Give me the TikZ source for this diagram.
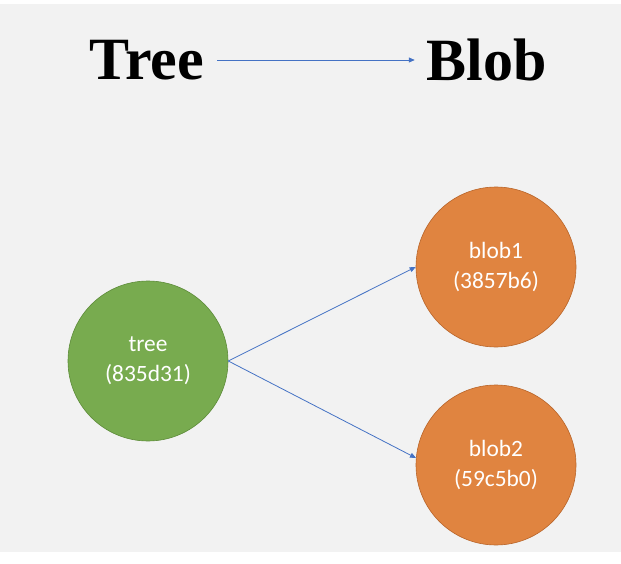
\documentclass[tikz,border=0pt]{standalone}
\usepackage{fontspec}
\setmainfont{Liberation Serif}
\newfontfamily\labelfont{Carlito}
\usepackage{tikz}
\usetikzlibrary{arrows.meta, positioning}
\definecolor{paper}{HTML}{F2F2F2}
\definecolor{treeGreen}{HTML}{78AB4F}
\definecolor{treeEdge}{HTML}{5E8C3A}
\definecolor{blobOrange}{HTML}{E08440}
\definecolor{blobEdge}{HTML}{B9652A}
\definecolor{linkBlue}{HTML}{4472C4}
\tikzset{
  heading/.style={font=\fontsize{60}{66}\selectfont\bfseries, text=black, inner sep=0pt},
  obj/.style={circle, minimum size=160pt, inner sep=0pt, line width=0.6pt, align=center,
    font=\labelfont\fontsize{23.4}{30}\selectfont, text=white},
  treeobj/.style={obj, fill=treeGreen, draw=treeEdge},
  blobobj/.style={obj, fill=blobOrange, draw=blobEdge},
  link/.style={-{Triangle[length=6pt, width=5pt]}, draw=linkBlue, line width=0.8pt},
}
\begin{document}
\begin{tikzpicture}[x=1pt, y=-1pt]
  \useasboundingbox (0,0) rectangle (621,564);
  \fill[paper] (0,4) rectangle (621,552);
  % ---- title: the object kinds
  \node[heading] (ttree) at (147,60) {Tree};
  \node[heading] (tblob) at (487,60) {Blob};
  \draw[link, shorten <=13pt, shorten >=12pt] (ttree.east) -- (tblob.west);
  % ---- the objects
  \node[treeobj] (tree) at (148,361) {tree\\(835d31)};
  \node[blobobj] (blob1) at (496,267) {blob1\\(3857b6)};
  \node[blobobj] (blob2) at (496,465) {blob2\\(59c5b0)};
  \draw[link] (tree.east) -- (blob1.west);
  \draw[link] (tree.east) -- (blob2.175);
\end{tikzpicture}
\end{document}
